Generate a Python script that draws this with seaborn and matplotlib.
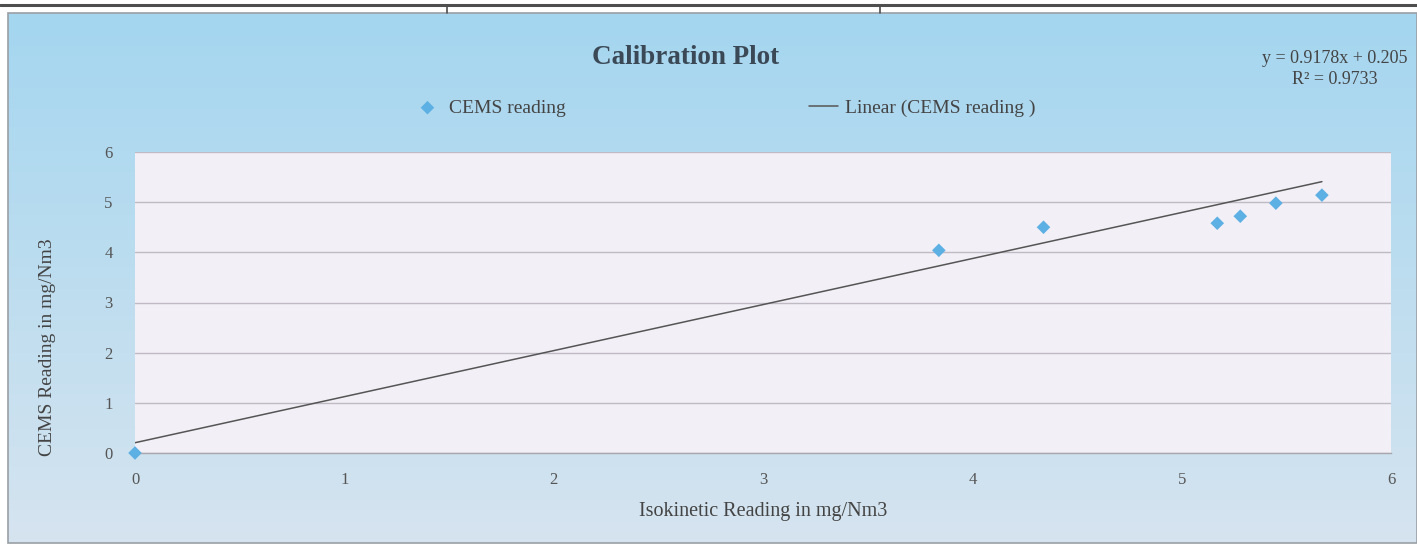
import numpy as np
import matplotlib
matplotlib.use("Agg")
import matplotlib.pyplot as plt
from matplotlib.lines import Line2D
from matplotlib.patches import Rectangle
import seaborn as sns

# Paired readings (mg/Nm3)
isokinetic = [0.0, 3.84, 4.34, 5.17, 5.28, 5.45, 5.67]
cems = [0.0, 4.04, 4.50, 4.58, 4.72, 4.98, 5.14]

# Linear trendline coefficients as reported on the chart
slope = 0.9178
intercept = 0.205
r_squared = 0.9733

x_ticks = [0, 1, 2, 3, 4, 5, 6]
y_ticks = [0, 1, 2, 3, 4, 5, 6]

title = "Calibration Plot"
x_label = "Isokinetic Reading in mg/Nm3"
y_label = "CEMS Reading in mg/Nm3"
series_label = "CEMS reading"
trend_label = "Linear (CEMS reading )"

sns.set_theme(style="white")
plt.rcParams["font.family"] = ["Liberation Serif", "DejaVu Serif"]

W, H = 1417, 545
fig = plt.figure(figsize=(W / 100, H / 100), dpi=100)
fig.patch.set_facecolor("white")

# Chart-area background: soft blue vertical gradient
bg = fig.add_axes([8 / W, 1 - 543 / H, (W - 8) / W, (543 - 13) / H])
top_c = np.array([164, 214, 239]) / 255
bot_c = np.array([214, 228, 240]) / 255
t = np.linspace(0, 1, 256)[:, None]
grad = top_c[None, :] * (1 - t) + bot_c[None, :] * t
bg.imshow(np.repeat(grad[:, None, :], 4, axis=1), aspect="auto",
          extent=[0, 1, 0, 1], interpolation="bilinear")
bg.set_axis_off()
bg.add_patch(Rectangle((0, 0), 1, 1, transform=bg.transAxes, fill=False,
                       edgecolor="#9a9fa5", lw=1.2, clip_on=False))

# Table border above the chart
fig.add_artist(Line2D([0, 1], [1 - 5 / H] * 2, transform=fig.transFigure,
                      color="#4e4e4e", lw=2.2))
for xv in (447, 880):
    fig.add_artist(Line2D([xv / W] * 2, [1 - 5 / H, 1 - 13 / H],
                          transform=fig.transFigure, color="#4e4e4e", lw=1.2))

# Plot area
ax = fig.add_axes([135 / W, 1 - 453 / H, (1391 - 135) / W, (453 - 152) / H])
ax.set_facecolor("#f3eff6")

line_x = np.array([0.0, max(isokinetic)])
line_y = slope * line_x + intercept
sns.lineplot(x=line_x, y=line_y, color="#555555", lw=1.1, ax=ax,
             label=trend_label, zorder=2)
sns.scatterplot(x=isokinetic, y=cems, marker="D", s=48, color="#5cb0e3",
                edgecolor="none", ax=ax, label=series_label, zorder=3,
                clip_on=False)

ax.set_xlim(0, 6)
ax.set_ylim(0, 6)
ax.set_xticks(x_ticks)
ax.set_yticks(y_ticks)
ax.yaxis.grid(True, color="#bfbac4", lw=1.0)
ax.xaxis.grid(False)
for side in ("top", "right", "left"):
    ax.spines[side].set_visible(False)
ax.spines["bottom"].set_color("#a8a8ac")
ax.spines["bottom"].set_linewidth(1.0)
ax.tick_params(axis="x", colors="#a8a8ac", length=4, width=1, pad=10,
               labelcolor="#555555", labelsize=12)
ax.tick_params(axis="y", length=0, pad=16, labelcolor="#555555", labelsize=12)

ax.set_xlabel(x_label, fontsize=14.5, color="#444444")
ax.set_ylabel(y_label, fontsize=14, color="#444444")
ax.xaxis.set_label_coords(0.5, -0.163)
ax.yaxis.set_label_coords(-0.063, 0.35)

handles, labels = ax.get_legend_handles_labels()
ax.get_legend().remove()
order = [labels.index(series_label), labels.index(trend_label)]
fig.legend([handles[i] for i in order], [labels[i] for i in order],
           loc="center", bbox_to_anchor=(724 / W, 1 - 108 / H), ncol=2,
           frameon=False, fontsize=14, labelcolor="#444444",
           handlelength=1.5, handletextpad=0.35, columnspacing=12.5)

fig.text(686 / W, 1 - 58 / H, title, ha="center", va="center",
         fontsize=19.5, fontweight="bold", color="#3b4956")
fig.text(1335 / W, 1 - 69 / H,
         f"y = {slope}x + {intercept}\nR² = {r_squared}",
         ha="center", va="center", fontsize=13, color="#444444",
         linespacing=1.3)

fig.savefig("out.png", dpi=100, facecolor=fig.get_facecolor())
